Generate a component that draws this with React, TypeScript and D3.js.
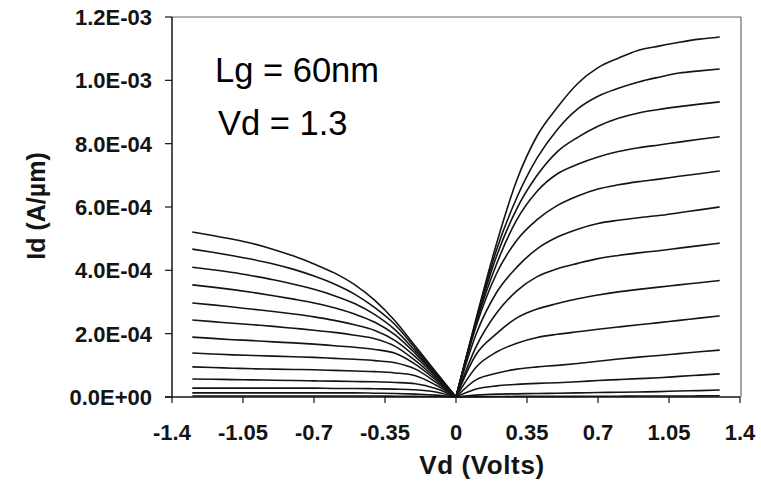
import React from "react";
import * as d3 from "d3";

const SCALE = 1e-4; // values below are in units of 1e-4 A/µm

const vdRight = [0, 0.1, 0.2, 0.3, 0.4, 0.5, 0.6, 0.7, 0.8, 0.9, 1.0, 1.1, 1.2, 1.3];
const idRight = [
  [0, 2.5, 4.85, 6.85, 8.25, 9.15, 9.9, 10.4, 10.7, 10.95, 11.08, 11.2, 11.3, 11.37],
  [0, 2.45, 4.65, 6.3, 7.55, 8.45, 9.1, 9.5, 9.75, 9.95, 10.1, 10.23, 10.3, 10.36],
  [0, 2.4, 4.45, 5.95, 7.0, 7.75, 8.2, 8.55, 8.8, 8.97, 9.08, 9.17, 9.25, 9.32],
  [0, 2.35, 4.2, 5.6, 6.5, 7.05, 7.35, 7.58, 7.75, 7.87, 7.96, 8.05, 8.14, 8.22],
  [0, 2.25, 3.9, 4.95, 5.6, 6.05, 6.35, 6.57, 6.7, 6.8, 6.88, 6.97, 7.05, 7.14],
  [0, 2.0, 3.3, 4.1, 4.68, 5.05, 5.3, 5.48, 5.58, 5.66, 5.73, 5.82, 5.91, 6.0],
  [0, 1.6, 2.65, 3.35, 3.8, 4.05, 4.22, 4.37, 4.47, 4.55, 4.62, 4.7, 4.78, 4.86],
  [0, 1.35, 2.0, 2.5, 2.78, 2.95, 3.1, 3.22, 3.32, 3.4, 3.47, 3.54, 3.61, 3.68],
  [0, 0.95, 1.42, 1.7, 1.88, 1.98, 2.06, 2.14, 2.21, 2.28, 2.35, 2.42, 2.49, 2.56],
  [0, 0.55, 0.75, 0.88, 0.95, 1.0, 1.06, 1.13, 1.2, 1.26, 1.31, 1.37, 1.43, 1.48],
  [0, 0.25, 0.35, 0.4, 0.43, 0.45, 0.48, 0.52, 0.55, 0.58, 0.61, 0.65, 0.69, 0.73],
  [0, 0.06, 0.09, 0.1, 0.11, 0.12, 0.13, 0.14, 0.15, 0.16, 0.17, 0.19, 0.2, 0.22],
  [0, 0.01, 0.015, 0.02, 0.02, 0.02, 0.02, 0.025, 0.025, 0.03, 0.03, 0.03, 0.035, 0.04],
];

const vdLeft = [-1.3, -1.2, -1.1, -1.0, -0.9, -0.8, -0.7, -0.6, -0.5, -0.4, -0.3, -0.2, -0.1, 0];
const idLeft = [
  [5.21, 5.1, 4.98, 4.84, 4.66, 4.45, 4.2, 3.92, 3.55, 3.05, 2.4, 1.6, 0.8, 0],
  [4.67, 4.57, 4.46, 4.34, 4.2, 4.03, 3.82, 3.57, 3.25, 2.82, 2.28, 1.53, 0.77, 0],
  [4.1, 4.02, 3.93, 3.82, 3.7, 3.56, 3.4, 3.2, 2.95, 2.6, 2.12, 1.45, 0.74, 0],
  [3.54, 3.47, 3.39, 3.3, 3.2, 3.09, 2.97, 2.82, 2.62, 2.36, 1.96, 1.37, 0.7, 0],
  [2.97, 2.91, 2.84, 2.77, 2.7, 2.62, 2.53, 2.42, 2.28, 2.1, 1.78, 1.27, 0.66, 0],
  [2.43, 2.38, 2.33, 2.28, 2.23, 2.17, 2.11, 2.04, 1.95, 1.84, 1.6, 1.15, 0.6, 0],
  [1.89, 1.85, 1.81, 1.78, 1.74, 1.71, 1.67, 1.62, 1.57, 1.5, 1.38, 1.03, 0.54, 0],
  [1.39, 1.36, 1.33, 1.31, 1.29, 1.27, 1.25, 1.22, 1.19, 1.15, 1.08, 0.88, 0.47, 0],
  [0.95, 0.93, 0.91, 0.89, 0.88, 0.87, 0.86, 0.84, 0.82, 0.8, 0.76, 0.67, 0.38, 0],
  [0.57, 0.56, 0.55, 0.54, 0.53, 0.52, 0.51, 0.5, 0.49, 0.48, 0.46, 0.42, 0.27, 0],
  [0.28, 0.28, 0.28, 0.28, 0.28, 0.28, 0.28, 0.27, 0.27, 0.26, 0.25, 0.23, 0.16, 0],
  [0.13, 0.13, 0.13, 0.13, 0.13, 0.13, 0.13, 0.13, 0.13, 0.12, 0.11, 0.09, 0.06, 0],
  [0.03, 0.03, 0.03, 0.03, 0.03, 0.03, 0.03, 0.03, 0.03, 0.03, 0.025, 0.02, 0.015, 0],
];

const xTicks = [-1.4, -1.05, -0.7, -0.35, 0, 0.35, 0.7, 1.05, 1.4];
const xTickLabels = ["-1.4", "-1.05", "-0.7", "-0.35", "0", "0.35", "0.7", "1.05", "1.4"];
const yTicks = [0, 2e-4, 4e-4, 6e-4, 8e-4, 1e-3, 1.2e-3];
const yTickLabels = ["0.0E+00", "2.0E-04", "4.0E-04", "6.0E-04", "8.0E-04", "1.0E-03", "1.2E-03"];

const xTitle = "Vd (Volts)";
const yTitle = "Id (A/µm)";
const notes = ["Lg = 60nm", "Vd = 1.3"];

export default function App() {
  const W = 761, H = 485;
  const L = 172, R = 740, T = 17, B = 397;
  const x = d3.scaleLinear().domain([-1.4, 1.4]).range([L, R]);
  const y = d3.scaleLinear().domain([0, 1.2e-3]).range([B, T]);
  const line = d3
    .line<[number, number]>()
    .x((d) => x(d[0]))
    .y((d) => y(d[1] * SCALE))
    .curve(d3.curveMonotoneX);

  const font = "'Liberation Sans', Arial, Helvetica, sans-serif";
  const ink = "#141414";

  return (
    <svg
      width={W}
      height={H}
      style={{ position: "absolute", left: 0, top: 0, background: "#fff" }}
      fontFamily={font}
    >
      <rect x={0} y={0} width={W} height={H} fill="#fff" />
      {/* plot frame */}
      <line x1={L} x2={R + 1} y1={T} y2={T} stroke="#666" strokeWidth={1.2} />
      <line x1={R + 1} x2={R + 1} y1={T} y2={B} stroke="#666" strokeWidth={1.2} />

      {/* curves */}
      <g fill="none" stroke={ink} strokeWidth={1.6} strokeLinejoin="round">
        {idRight.map((s, i) => (
          <path key={"r" + i} d={line(vdRight.map((v, j) => [v, s[j]]) as [number, number][]) || ""} />
        ))}
        {idLeft.map((s, i) => (
          <path key={"l" + i} d={line(vdLeft.map((v, j) => [v, s[j]]) as [number, number][]) || ""} />
        ))}
      </g>

      {/* axes */}
      <line x1={L} x2={L} y1={T} y2={B} stroke={ink} strokeWidth={1.5} />
      <line x1={L - 7} x2={R} y1={B} y2={B} stroke={ink} strokeWidth={1.5} />
      {yTicks.map((t, i) => (
        <g key={"yt" + i}>
          <line x1={L - 7} x2={L} y1={y(t)} y2={y(t)} stroke={ink} strokeWidth={1.2} />
          <text
            x={152}
            y={y(t)}
            dy="0.36em"
            textAnchor="end"
            fontSize={22}
            fontWeight="bold"
            fill={ink}
          >
            {yTickLabels[i]}
          </text>
        </g>
      ))}
      {xTicks.map((t, i) => (
        <g key={"xt" + i}>
          <line x1={x(t)} x2={x(t)} y1={B} y2={B + 6} stroke={ink} strokeWidth={1.2} />
          <text x={x(t)} y={440} textAnchor="middle" fontSize={22} fontWeight="bold" fill={ink}>
            {xTickLabels[i]}
          </text>
        </g>
      ))}

      {/* titles */}
      <text x={482} y={474} textAnchor="middle" fontSize={26} fontWeight="bold" fill={ink} letterSpacing={0.6}>
        {xTitle}
      </text>
      <text
        transform={`translate(45,206) rotate(-90)`}
        textAnchor="middle"
        fontSize={25}
        fontWeight="bold"
        fill={ink}
      >
        {yTitle}
      </text>

      {/* annotations */}
      <text x={215} y={82} fontSize={34.5} fill="#000">
        {notes[0]}
      </text>
      <text x={218} y={135} fontSize={34.5} fill="#000">
        {notes[1]}
      </text>
    </svg>
  );
}
